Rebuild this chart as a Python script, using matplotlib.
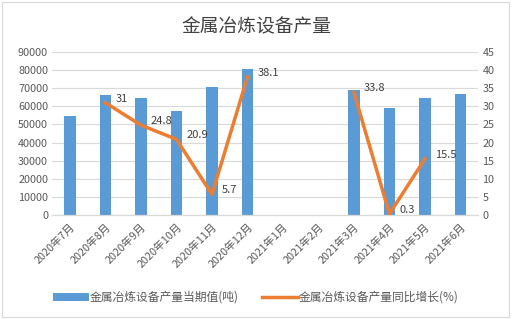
import numpy as np
import matplotlib.pyplot as plt

plt.rcParams['font.family'] = ['Noto Sans CJK SC', 'DejaVu Sans']

months = ['2020年7月', '2020年8月', '2020年9月', '2020年10月', '2020年11月', '2020年12月',
          '2021年1月', '2021年2月', '2021年3月', '2021年4月', '2021年5月', '2021年6月']
output = [54800, 66500, 64700, 57500, 70800, 80700,
          np.nan, np.nan, 69000, 59200, 64700, 66900]
growth = [np.nan, 31, 24.8, 20.9, 5.7, 38.1,
          np.nan, np.nan, 33.8, 0.3, 15.5, np.nan]

fig = plt.figure(figsize=(5.12, 3.19), dpi=100)
ax = fig.add_axes([0.102, 0.326, 0.832, 0.511])
ax2 = ax.twinx()

x = np.arange(len(months))
ax.bar(x, output, width=0.32, color='#5B9BD5', zorder=2,
       label='金属冶炼设备产量当期值(吨)')
ax2.plot(x, growth, color='#ED7D31', lw=2.5, zorder=3,
         label='金属冶炼设备产量同比增长(%)')
for xi, v in zip(x, growth):
    if not np.isnan(v):
        ax2.annotate(f'{v:g}', (xi, v), xytext=(7, 3), textcoords='offset points',
                     fontsize=8, color='#404040', va='center')

ax.set_ylim(0, 90000)
ax.set_yticks(np.arange(0, 90001, 10000))
ax2.set_ylim(0, 45)
ax2.set_yticks(np.arange(0, 46, 5))
ax.set_xlim(-0.5, len(months) - 0.5)
ax.set_xticks(x)
ax.set_xticklabels(months, rotation=45, ha='right', rotation_mode='anchor')
ax.grid(axis='y', color='#D9D9D9', lw=0.8, zorder=0)
ax.set_axisbelow(True)

for a in (ax, ax2):
    for s in ('top', 'left', 'right'):
        a.spines[s].set_visible(False)
    a.spines['bottom'].set_color('#D9D9D9')
    a.tick_params(axis='both', length=0, labelsize=7.8, labelcolor='#595959', pad=3)
ax.tick_params(axis='x', pad=5)

fig.text(0.5, 0.915, '金属冶炼设备产量', ha='center', va='center', fontsize=13.5, color='#404040')

h1, l1 = ax.get_legend_handles_labels()
h2, l2 = ax2.get_legend_handles_labels()
fig.legend(h1 + h2, l1 + l2, loc='center', bbox_to_anchor=(0.5, 0.068), ncol=2,
           frameon=False, fontsize=8.5, labelcolor='#595959', handlelength=3,
           columnspacing=2.0, handletextpad=0.1)

fig.patches.append(plt.Rectangle((0.004, 0.006), 0.99, 0.988, transform=fig.transFigure,
                                 fill=False, edgecolor='#D9D9D9', lw=0.8))

fig.savefig('out.png', dpi=100)
